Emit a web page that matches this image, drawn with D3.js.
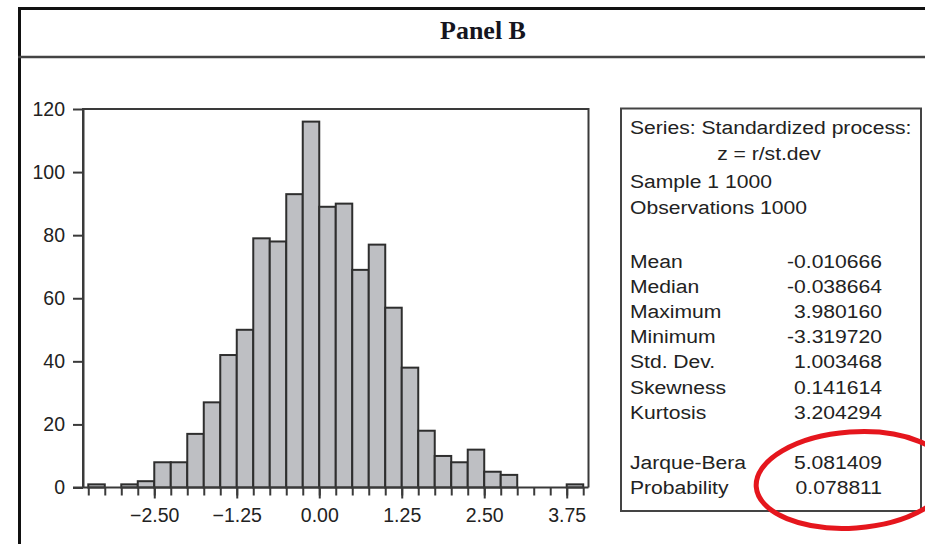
<!DOCTYPE html>
<html>
<head>
<meta charset="utf-8">
<script src="https://cdn.jsdelivr.net/npm/d3@7"></script>
<style>
  html, body { margin: 0; padding: 0; background: #fff; }
  svg { display: block; }
</style>
</head>
<body>
<script>
// histogram bins (lower edge, width 0.25) and counts
const binStarts = [-3.5, -3.25, -3.0, -2.75, -2.5, -2.25, -2.0, -1.75, -1.5, -1.25,
                   -1.0, -0.75, -0.5, -0.25, 0.0, 0.25, 0.5, 0.75, 1.0, 1.25,
                   1.5, 1.75, 2.0, 2.25, 2.5, 2.75, 3.0, 3.25, 3.5, 3.75];
const counts = [1, 0, 1, 2, 8, 8, 17, 27, 42, 50,
                79, 78, 93, 116, 89, 90, 69, 77, 57, 38,
                18, 10, 8, 12, 5, 4, 0, 0, 0, 1];
const binWidth = 0.25;

const xMajorTicks = [-2.5, -1.25, 0, 1.25, 2.5, 3.75];
const xMajorLabels = ["\u22122.50", "\u22121.25", "0.00", "1.25", "2.50", "3.75"];
const yTicks = [0, 20, 40, 60, 80, 100, 120];

const headerLines = ["Series: Standardized process:", "z = r/st.dev", "Sample 1 1000", "Observations 1000"];
const statNames = ["Mean", "Median", "Maximum", "Minimum", "Std. Dev.", "Skewness", "Kurtosis"];
const statValues = ["-0.010666", "-0.038664", "3.980160", "-3.319720", "1.003468", "0.141614", "3.204294"];
const testNames = ["Jarque-Bera", "Probability"];
const testValues = ["5.081409", "0.078811"];

const W = 925, H = 544;
const svg = d3.select("body").append("svg")
    .attr("width", W)
    .attr("height", H);

// outer panel frame + title
svg.append("line").attr("x1", 19.5).attr("x2", 19.5).attr("y1", 7).attr("y2", H)
    .attr("stroke", "#111").attr("stroke-width", 3);
svg.append("line").attr("x1", 18).attr("x2", W).attr("y1", 8.5).attr("y2", 8.5)
    .attr("stroke", "#111").attr("stroke-width", 3);
svg.append("line").attr("x1", 18).attr("x2", W).attr("y1", 57).attr("y2", 57)
    .attr("stroke", "#444").attr("stroke-width", 2.5);
svg.append("text")
    .attr("x", 483).attr("y", 39)
    .attr("text-anchor", "middle")
    .style("font-family", "'Liberation Serif', 'DejaVu Serif', serif")
    .style("font-weight", "bold")
    .style("font-size", "26px")
    .style("fill", "#151520")
    .text("Panel B");

// plot area
const plotL = 83, plotR = 588.5, plotT = 109, plotB = 487.5;

const x = d3.scaleLinear().domain([-3.58, 4.08]).range([plotL, plotR]);
const y = d3.scaleLinear().domain([0, 120]).range([plotB, plotT]);

const tickFont = "'Liberation Sans', Arial, sans-serif";

svg.selectAll("rect.bar")
    .data(counts.map((c, i) => ({ x0: binStarts[i], n: c })).filter(d => d.n > 0))
    .enter()
    .append("rect")
    .attr("class", "bar")
    .attr("x", d => x(d.x0))
    .attr("y", d => y(d.n))
    .attr("width", d => x(d.x0 + binWidth) - x(d.x0))
    .attr("height", d => y(0) - y(d.n))
    .style("fill", "#bebfc3")
    .style("stroke", "#2e2e2e")
    .style("stroke-width", 2);

// frame around plot (top, right)
svg.append("path")
    .attr("d", `M${plotL},${plotB} V${plotT} H${plotR} V${plotB}`)
    .attr("fill", "none")
    .attr("stroke", "#3a3a3a")
    .attr("stroke-width", 2);

// y axis
const yAxis = d3.axisLeft(y).tickValues(yTicks).tickSize(10).tickPadding(8).tickSizeOuter(0);
const gy = svg.append("g")
    .attr("transform", `translate(${plotL},0)`)
    .call(yAxis);
gy.select(".domain").attr("stroke", "#3a3a3a").attr("stroke-width", 2);
gy.selectAll(".tick line").attr("stroke", "#3a3a3a").attr("stroke-width", 2);
gy.selectAll(".tick text")
    .style("font-family", tickFont)
    .style("font-size", "19.5px")
    .style("fill", "#222");

// x axis: minor ticks at every bin edge, labelled majors
const edges = binStarts.concat([binStarts[binStarts.length - 1] + binWidth]);
const gxMinor = svg.append("g")
    .attr("transform", `translate(0,${plotB})`)
    .call(d3.axisBottom(x).tickValues(edges).tickSize(8).tickFormat("").tickSizeOuter(0));
gxMinor.select(".domain").remove();
gxMinor.selectAll(".tick line").attr("stroke", "#3a3a3a").attr("stroke-width", 2);

const gxMajor = svg.append("g")
    .attr("transform", `translate(0,${plotB})`)
    .call(d3.axisBottom(x).tickValues(xMajorTicks).tickSize(11).tickPadding(10)
        .tickFormat((d, i) => xMajorLabels[i]).tickSizeOuter(0));
gxMajor.select(".domain").remove();
gxMajor.selectAll(".tick line").attr("stroke", "#3a3a3a").attr("stroke-width", 2);
gxMajor.selectAll(".tick text")
    .style("font-family", tickFont)
    .style("font-size", "19.5px")
    .style("fill", "#222");

// baseline across the plot
svg.append("line")
    .attr("x1", plotL - 10).attr("x2", plotR)
    .attr("y1", plotB).attr("y2", plotB)
    .attr("stroke", "#3a3a3a").attr("stroke-width", 2);

// statistics box
svg.append("rect")
    .attr("x", 621).attr("y", 108.5)
    .attr("width", 300).attr("height", 402.5)
    .attr("fill", "none")
    .attr("stroke", "#444")
    .attr("stroke-width", 2);

const stretch = 1.135;
function boxText(tx, ty, anchor, str) {
    svg.append("text")
        .attr("transform", `translate(${tx},${ty}) scale(${stretch},1)`)
        .attr("text-anchor", anchor)
        .style("font-family", tickFont)
        .style("font-size", "18.6px")
        .style("fill", "#222")
        .text(str);
}

const headerY = [134.3, 160.3, 187.5, 214.2];
boxText(630, headerY[0], "start", headerLines[0]);
boxText(769, headerY[1], "middle", headerLines[1]);
boxText(630, headerY[2], "start", headerLines[2]);
boxText(630, headerY[3], "start", headerLines[3]);

statNames.forEach((name, i) => {
    const ty = 267.5 + i * 25.2;
    boxText(630, ty, "start", name);
    boxText(882, ty, "end", statValues[i]);
});
testNames.forEach((name, i) => {
    const ty = 469.2 + i * 25.2;
    boxText(630, ty, "start", name);
    boxText(882, ty, "end", testValues[i]);
});

// red highlight ellipse
svg.append("ellipse")
    .attr("cx", 853).attr("cy", 480)
    .attr("rx", 97).attr("ry", 48)
    .attr("transform", "rotate(-4,853,480)")
    .attr("fill", "none")
    .attr("stroke", "#e5161d")
    .attr("stroke-width", 5);
</script>
</body>
</html>
